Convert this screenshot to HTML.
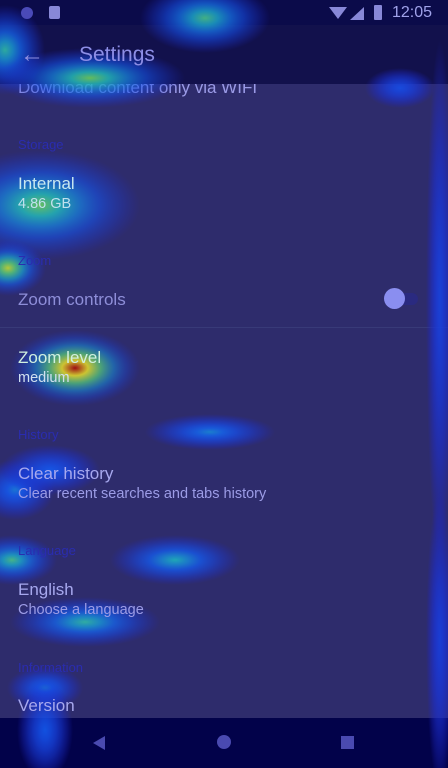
<!DOCTYPE html>
<html><head><meta charset="utf-8"><style>
body{margin:0;width:448px;height:768px;overflow:hidden;background:#2e2c6c;font-family:"Liberation Sans",sans-serif;}
#root{position:relative;width:448px;height:768px;}
.t{position:absolute;left:18px;color:#8f8fe0;white-space:nowrap}
.ti{font-size:17px;color:#a7a8ee}
.su{font-size:14.5px;color:#9c9ce6}
.hd{font-size:13px;color:#2a2cb0}
svg{position:absolute;left:0;top:0}
</style></head><body>
<div id="root">
<div class="t ti" style="top:78px;color:#9a9ae6">Download content only via WIFI</div>
<div style="position:absolute;left:0;top:0;width:448px;height:25px;background:#0b0b4a"></div>
<div style="position:absolute;left:0;top:25px;width:448px;height:59px;background:#12114c"></div>
<div style="position:absolute;left:0;top:718px;width:448px;height:50px;background:#02024a"></div>
<div style="position:absolute;left:0;top:327px;width:448px;height:1px;background:#383a78"></div>
<svg id="heat" width="448" height="768"></svg>
<div class="t" style="left:392px;top:4px;font-size:16px;color:#a0a2ea">12:05</div>
<div style="position:absolute;left:21px;top:7px;width:12px;height:12px;border-radius:50%;background:#4a4ab8"></div>
<div style="position:absolute;left:49px;top:6px;width:11px;height:13px;background:#8888d8;border-radius:2px"></div>
<div style="position:absolute;left:329px;top:7px;width:0;height:0;border-left:9px solid transparent;border-right:9px solid transparent;border-top:12px solid #8888d8"></div>
<div style="position:absolute;left:350px;top:7px;width:0;height:0;border-left:14px solid transparent;border-bottom:13px solid #8888d8"></div>
<div style="position:absolute;left:374px;top:5px;width:8px;height:15px;background:#8888d8;border-radius:1px"></div>
<div class="t" style="left:20px;top:41px;font-size:24px;color:#9090e0">&#8592;</div>
<div class="t" style="left:79px;top:43px;font-size:21px;color:#8d8ee6">Settings</div>
<div class="t hd" style="top:137px">Storage</div>
<div class="t ti" style="top:174px;color:#c8e8f0">Internal</div>
<div class="t su" style="top:196px;color:#c0e0ee">4.86 GB</div>
<div class="t hd" style="top:253px">Zoom</div>
<div class="t ti" style="top:290px;color:#8e8ed8">Zoom controls</div>
<div style="position:absolute;left:390px;top:293px;width:28px;height:12px;border-radius:6px;background:#2a2a80"></div>
<div style="position:absolute;left:384px;top:288px;width:21px;height:21px;border-radius:50%;background:#8a8ef0"></div>
<div class="t ti" style="top:348px;color:#d0f0e0">Zoom level</div>
<div class="t su" style="top:370px;color:#d0e0f0">medium</div>
<div class="t hd" style="top:427px">History</div>
<div class="t ti" style="top:464px">Clear history</div>
<div class="t su" style="top:486px">Clear recent searches and tabs history</div>
<div class="t hd" style="top:543px">Language</div>
<div class="t ti" style="top:580px">English</div>
<div class="t su" style="top:602px">Choose a language</div>
<div class="t hd" style="top:660px">Information</div>
<div class="t ti" style="top:696px">Version</div>
<div style="position:absolute;left:93px;top:736px;width:0;height:0;border-top:7px solid transparent;border-bottom:7px solid transparent;border-right:12px solid #4a4ab0"></div>
<div style="position:absolute;left:217px;top:735px;width:14px;height:14px;border-radius:50%;background:#4a4ab0"></div>
<div style="position:absolute;left:341px;top:736px;width:13px;height:13px;background:#4a4ab0"></div>
</div>
<script>
const blobX=[205,5,90,40,8,75,210,175,12,85,45,15,400,440,440,45,50];
const blobY=[18,50,78,205,268,368,432,560,560,622,688,490,88,300,640,730,470];
const blobRX=[65,40,95,100,38,65,65,65,45,75,38,40,35,14,14,28,50];
const blobRY=[35,45,30,55,28,38,18,25,25,25,22,30,20,260,150,50,25];
const blobV=[0.62,0.58,0.68,0.68,0.78,1.0,0.45,0.55,0.62,0.58,0.42,0.42,0.28,0.22,0.2,0.35,0.35];
function jet(v){
  const s=[[0,[30,30,200]],[0.35,[20,90,240]],[0.55,[30,180,190]],[0.7,[120,210,80]],[0.82,[230,220,40]],[0.92,[230,90,20]],[1,[170,10,10]]];
  for(let i=1;i<s.length;i++){if(v<=s[i][0]){const a=s[i-1],b=s[i],t=(v-a[0])/(b[0]-a[0]);return 'rgb('+a[1].map((c,k)=>Math.round(c+(b[1][k]-c)*t)).join(',')+')';}}
  return 'rgb(170,10,10)';
}
const svg=document.getElementById('heat');const NS='http://www.w3.org/2000/svg';
const defs=document.createElementNS(NS,'defs');svg.appendChild(defs);
blobX.forEach((x,i)=>{
  const g=document.createElementNS(NS,'radialGradient');g.setAttribute('id','g'+i);
  [0,0.2,0.4,0.6,0.8,1].forEach(o=>{const st=document.createElementNS(NS,'stop');st.setAttribute('offset',o);
    const v=blobV[i]*(1-o*0.9);st.setAttribute('stop-color',jet(v));
    st.setAttribute('stop-opacity',(0.9*(1-o*o)).toFixed(2));g.appendChild(st);});
  defs.appendChild(g);
  const e=document.createElementNS(NS,'ellipse');
  
  
  e.setAttribute('cx',x);e.setAttribute('cy',blobY[i]);e.setAttribute('rx',blobRX[i]);e.setAttribute('ry',blobRY[i]);
  e.setAttribute('fill','url(#g'+i+')');svg.appendChild(e);
});
</script>
</body></html>
